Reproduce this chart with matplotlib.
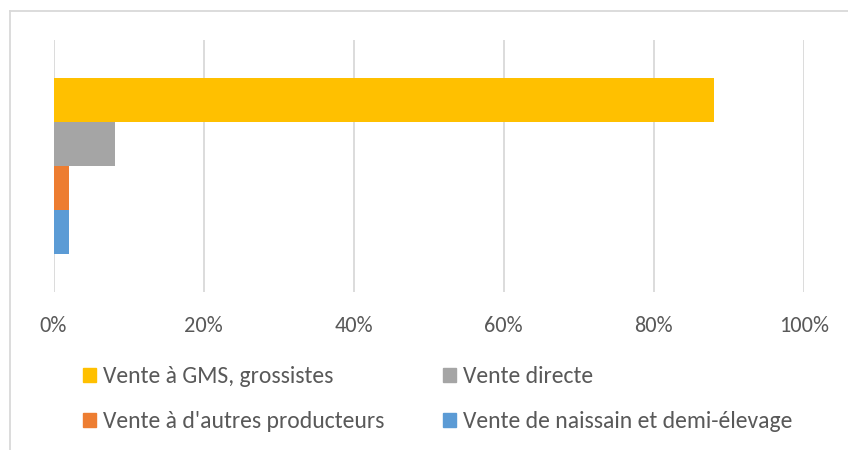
import numpy as np
import matplotlib.pyplot as plt
from matplotlib.patches import Patch
from matplotlib.lines import Line2D

# Data (share of sales, %):
series = ['Vente à GMS, grossistes', 'Vente directe',
          "Vente à d'autres producteurs", 'Vente de naissain et demi-élevage']
values = [88, 8.2, 2, 2]
colors = ['#FFC000', '#A5A5A5', '#ED7D31', '#5B9BD5']
ticks = [0, 20, 40, 60, 80, 100]
tick_labels = ['0%', '20%', '40%', '60%', '80%', '100%']

plt.rcParams['font.family'] = ['Carlito', 'DejaVu Sans']
txt = '#595959'

fig = plt.figure(figsize=(8.48, 4.5), dpi=100)
ax = fig.add_axes([53.5 / 848, 1 - 292 / 450, (804 - 53.5) / 848, 252 / 450])

# Excel-style clustered bars: one category, 4 series, gap width ~175%
n = len(values)
h = 1 / (n + 1.75)
offsets = (np.arange(n)[::-1] - (n - 1) / 2) * h
for v, c, off, lab in zip(values, colors, offsets, series):
    ax.barh(off, v, height=h, color=c, label=lab, zorder=2)

ax.set_xlim(0, 100)
ax.set_ylim(-0.5, 0.5)
ax.set_xticks(ticks)
ax.set_xticklabels(tick_labels, fontsize=16, color=txt)
ax.set_yticks([])
ax.tick_params(axis='x', length=0, pad=17)
ax.grid(axis='x', color='#D9D9D9', linewidth=1.3, zorder=0)
for s in ax.spines.values():
    s.set_visible(False)

# Chart border (top and left only visible in the crop)
fig.add_artist(Line2D([10 / 848, 1], [1 - 11 / 450] * 2, color='#D9D9D9', lw=1.3))
fig.add_artist(Line2D([10 / 848] * 2, [0, 1 - 11 / 450], color='#D9D9D9', lw=1.3))

# Legend: two columns placed like Excel does
legend_kw = dict(loc='upper left', frameon=False, fontsize=17, labelcolor=txt,
                 handlelength=0.55, handleheight=0.55, handletextpad=0.3,
                 labelspacing=1.02, borderpad=0, borderaxespad=0)
cols = [([0, 2], 83), ([1, 3], 443)]
for idx, x0 in cols:
    leg = fig.legend([Patch(color=colors[i]) for i in idx], [series[i] for i in idx],
                     bbox_to_anchor=(x0 / 848, 1 - 366 / 450), **legend_kw)

fig.savefig('out.png', dpi=100)
